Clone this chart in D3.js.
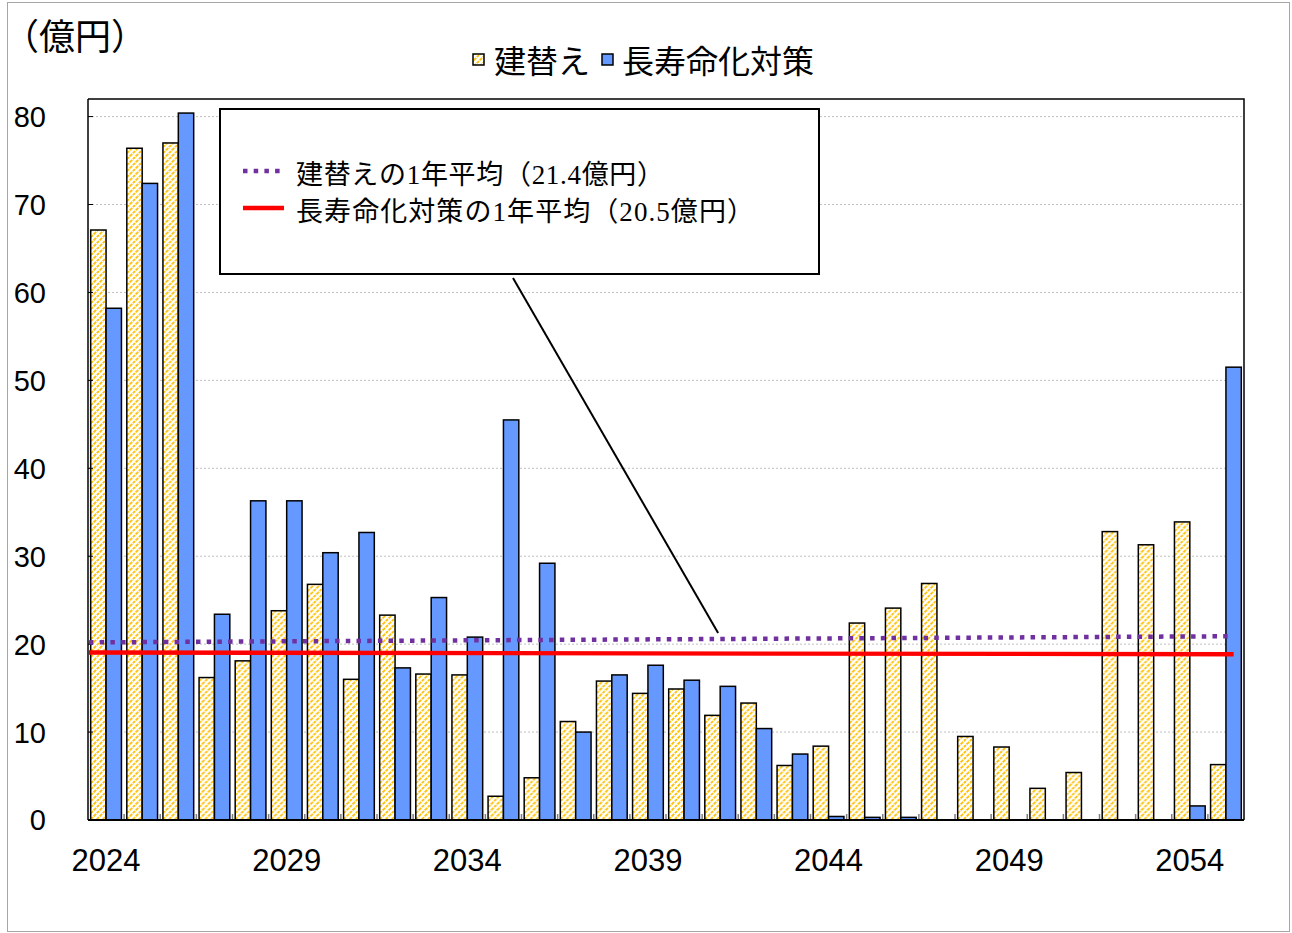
<!DOCTYPE html>
<html>
<head>
<meta charset="utf-8">
<script src="https://cdn.jsdelivr.net/npm/d3@7"></script>
<style>
  body { margin: 0; background: #fff; }
  svg { display: block; }
</style>
</head>
<body>
<div id="chart"></div>
<script>
// 年度
const years = ["2024","2025","2026","2027","2028","2029","2030","2031","2032","2033","2034",
               "2035","2036","2037","2038","2039","2040","2041","2042","2043","2044","2045",
               "2046","2047","2048","2049","2050","2051","2052","2053","2054","2055"];
// 建替え (億円)
const rebuild = [67.1, 76.4, 77.0, 16.2, 18.1, 23.8, 26.8, 16.0, 23.3, 16.6, 16.5,
                 2.7, 4.8, 11.2, 15.8, 14.4, 14.9, 11.9, 13.3, 6.2, 8.4, 22.4,
                 24.1, 26.9, 9.5, 8.3, 3.6, 5.4, 32.8, 31.3, 33.9, 6.3];
// 長寿命化対策 (億円)
const lifeExt = [58.2, 72.4, 80.4, 23.4, 36.3, 36.3, 30.4, 32.7, 17.3, 25.3, 20.8,
                 45.5, 29.2, 10.0, 16.5, 17.6, 15.9, 15.2, 10.4, 7.5, 0.4, 0.3,
                 0.3, 0, 0, 0, 0, 0, 0, 0, 1.6, 51.5];
const seriesNames = ["建替え", "長寿命化対策"];
const yTicks = [0, 10, 20, 30, 40, 50, 60, 70, 80];
const xTickLabels = ["2024", "2029", "2034", "2039", "2044", "2049", "2054"];
// 平均線 (始点, 終点)
const rebuildAvg = [20.2, 20.9];
const lifeExtAvg = [19.05, 18.85];
const avgLabels = ["建替えの1年平均（21.4億円）", "長寿命化対策の1年平均（20.5億円）"];

const W = 1292, H = 933;
const plot = {left: 88, right: 1244, top: 99, bottom: 820};
const jp = "'Noto Sans CJK JP', sans-serif";
const num = "'Liberation Sans', Arial, sans-serif";
const colYellow = "#FFC000", colBlue = "#6699FF", colPurple = "#7030A0", colRed = "#FF0000";

const svg = d3.select("#chart").append("svg")
    .attr("width", W)
    .attr("height", H);

// ハッチング
const defs = svg.append("defs");
const pat = defs.append("pattern")
    .attr("id", "hatch")
    .attr("patternUnits", "userSpaceOnUse")
    .attr("width", 6)
    .attr("height", 6);
pat.append("rect").attr("width", 6).attr("height", 6).attr("fill", "#fff");
pat.append("path")
    .attr("d", "M-1.5,1.5 L1.5,-1.5 M0,6 L6,0 M4.5,7.5 L7.5,4.5")
    .attr("stroke", colYellow)
    .attr("stroke-width", 1.8)
    .attr("stroke-dasharray", "3,1");

// 外枠
svg.append("rect")
    .attr("x", 7.5).attr("y", 2.5)
    .attr("width", 1282).attr("height", 929)
    .attr("fill", "none")
    .attr("stroke", "#a6a6a6");

const x0 = d3.scaleBand()
    .domain(years)
    .range([plot.left, plot.right]);
const x1 = d3.scaleBand()
    .domain(seriesNames)
    .range([0, x0.bandwidth()])
    .paddingOuter(0.175);
const y = d3.scaleLinear()
    .domain([0, 82])
    .range([plot.bottom, plot.top]);

// グリッド線
svg.append("g")
    .selectAll("line")
    .data(yTicks.filter(d => d > 0))
    .enter().append("line")
    .attr("x1", plot.left).attr("x2", plot.right)
    .attr("y1", d => y(d)).attr("y2", d => y(d))
    .attr("stroke", "#bfbfbf")
    .attr("stroke-dasharray", "2,2");

// 枠 (上・右)
svg.append("path")
    .attr("d", `M${plot.left},${plot.top} H${plot.right} V${plot.bottom}`)
    .attr("fill", "none")
    .attr("stroke", "#000")
    .attr("stroke-width", 1.5);

// 棒
const rows = years.map((yr, i) => ({year: yr, values: [
    {key: seriesNames[0], value: rebuild[i]},
    {key: seriesNames[1], value: lifeExt[i]}
]}));

svg.append("g")
    .selectAll("g")
    .data(rows)
    .enter().append("g")
    .attr("transform", d => "translate(" + x0(d.year) + ",0)")
    .selectAll("rect")
    .data(d => d.values)
    .enter().append("rect")
    .attr("x", d => x1(d.key))
    .attr("width", x1.bandwidth())
    .attr("y", d => y(d.value))
    .attr("height", d => y(0) - y(d.value))
    .attr("fill", d => d.key === seriesNames[0] ? "url(#hatch)" : colBlue)
    .attr("stroke", "#000")
    .attr("stroke-width", 1.5);

// Y軸
svg.append("line")
    .attr("x1", plot.left).attr("x2", plot.left)
    .attr("y1", plot.top).attr("y2", plot.bottom)
    .attr("stroke", "#000").attr("stroke-width", 1.5);
svg.append("g")
    .selectAll("line")
    .data(yTicks)
    .enter().append("line")
    .attr("x1", plot.left).attr("x2", plot.left + 5)
    .attr("y1", d => y(d)).attr("y2", d => y(d))
    .attr("stroke", "#000");
svg.append("g")
    .selectAll("text")
    .data(yTicks)
    .enter().append("text")
    .attr("x", 46)
    .attr("y", d => y(d))
    .attr("dy", "0.36em")
    .attr("text-anchor", "end")
    .style("font-family", num)
    .style("font-size", "29px")
    .text(d => d);

// X軸
svg.append("g")
    .selectAll("line")
    .data(years.slice(1))
    .enter().append("line")
    .attr("x1", d => x0(d)).attr("x2", d => x0(d))
    .attr("y1", plot.bottom).attr("y2", plot.bottom - 6)
    .attr("stroke", "#7f7f7f")
    .attr("stroke-width", 1.5);
svg.append("line")
    .attr("x1", plot.left).attr("x2", plot.right)
    .attr("y1", plot.bottom).attr("y2", plot.bottom)
    .attr("stroke", "#000").attr("stroke-width", 2);
svg.append("g")
    .selectAll("text")
    .data(xTickLabels)
    .enter().append("text")
    .attr("x", d => x0(d) + x0.bandwidth() / 2)
    .attr("y", 860)
    .attr("dy", "0.36em")
    .attr("text-anchor", "middle")
    .style("font-family", num)
    .style("font-size", "31px")
    .text(d => d);

// 平均線
const lastYear = years[years.length - 1];
const xs = d3.scaleLinear()
    .domain([0, 1])
    .range([plot.left + 1, x0(lastYear) + x1(seriesNames[1]) + x1.bandwidth() / 2]);
const avgLine = d3.line()
    .x((d, i) => xs(i))
    .y(d => y(d));
svg.append("path")
    .attr("d", avgLine(lifeExtAvg))
    .attr("fill", "none")
    .attr("stroke", colRed)
    .attr("stroke-width", 4.3);
svg.append("path")
    .attr("d", avgLine(rebuildAvg))
    .attr("fill", "none")
    .attr("stroke", colPurple)
    .attr("stroke-width", 4.5)
    .attr("stroke-dasharray", "4.5,6.2");

// 凡例ボックス
const box = {x: 220, y: 109, w: 599, h: 165};
svg.append("rect")
    .attr("x", box.x).attr("y", box.y)
    .attr("width", box.w).attr("height", box.h)
    .attr("fill", "#fff")
    .attr("stroke", "#000")
    .attr("stroke-width", 2);
// 引き出し線
const calloutYear = "2041";
const calloutT = (x0(calloutYear) + 16 - xs.range()[0]) / (xs.range()[1] - xs.range()[0]);
svg.append("line")
    .attr("x1", 513).attr("y1", box.y + box.h + 4)
    .attr("x2", x0(calloutYear) + 16)
    .attr("y2", y(rebuildAvg[0] + (rebuildAvg[1] - rebuildAvg[0]) * calloutT) - 6)
    .attr("stroke", "#000")
    .attr("stroke-width", 2);

const legRows = [
    {label: avgLabels[0], color: colPurple, dash: "4.5,6.2", w: 4.5, len: 368},
    {label: avgLabels[1], color: colRed, dash: null, w: 4.3, len: 458}
];
legRows.forEach((r, i) => {
    const cy = 174 + i * 37;
    svg.append("line")
        .attr("x1", 243).attr("x2", 284)
        .attr("y1", cy - 3).attr("y2", cy - 3)
        .attr("stroke", r.color)
        .attr("stroke-width", r.w)
        .attr("stroke-dasharray", r.dash);
    svg.append("text")
        .attr("x", 296)
        .attr("y", cy)
        .attr("dy", "0.36em")
        .attr("textLength", r.len)
        .style("font-family", "'Liberation Serif', 'Noto Sans CJK JP', serif")
        .style("font-size", "27px")
        .text(r.label);
});

// 単位
svg.append("text")
    .attr("x", 3)
    .attr("y", 37)
    .attr("dy", "0.36em")
    .style("font-family", jp)
    .style("font-size", "36px")
    .text("（億円）");

// 上部の凡例
const topLeg = [
    {label: seriesNames[0], fill: "url(#hatch)", px: 473, tx: 494},
    {label: seriesNames[1], fill: colBlue, px: 602, tx: 622}
];
topLeg.forEach(d => {
    svg.append("rect")
        .attr("x", d.px).attr("y", 54)
        .attr("width", 11).attr("height", 11)
        .attr("fill", d.fill)
        .attr("stroke", "#000")
        .attr("stroke-width", 1.5);
    svg.append("text")
        .attr("x", d.tx)
        .attr("y", 61)
        .attr("dy", "0.36em")
        .style("font-family", jp)
        .style("font-size", "32px")
        .text(d.label);
});
</script>
</body>
</html>
